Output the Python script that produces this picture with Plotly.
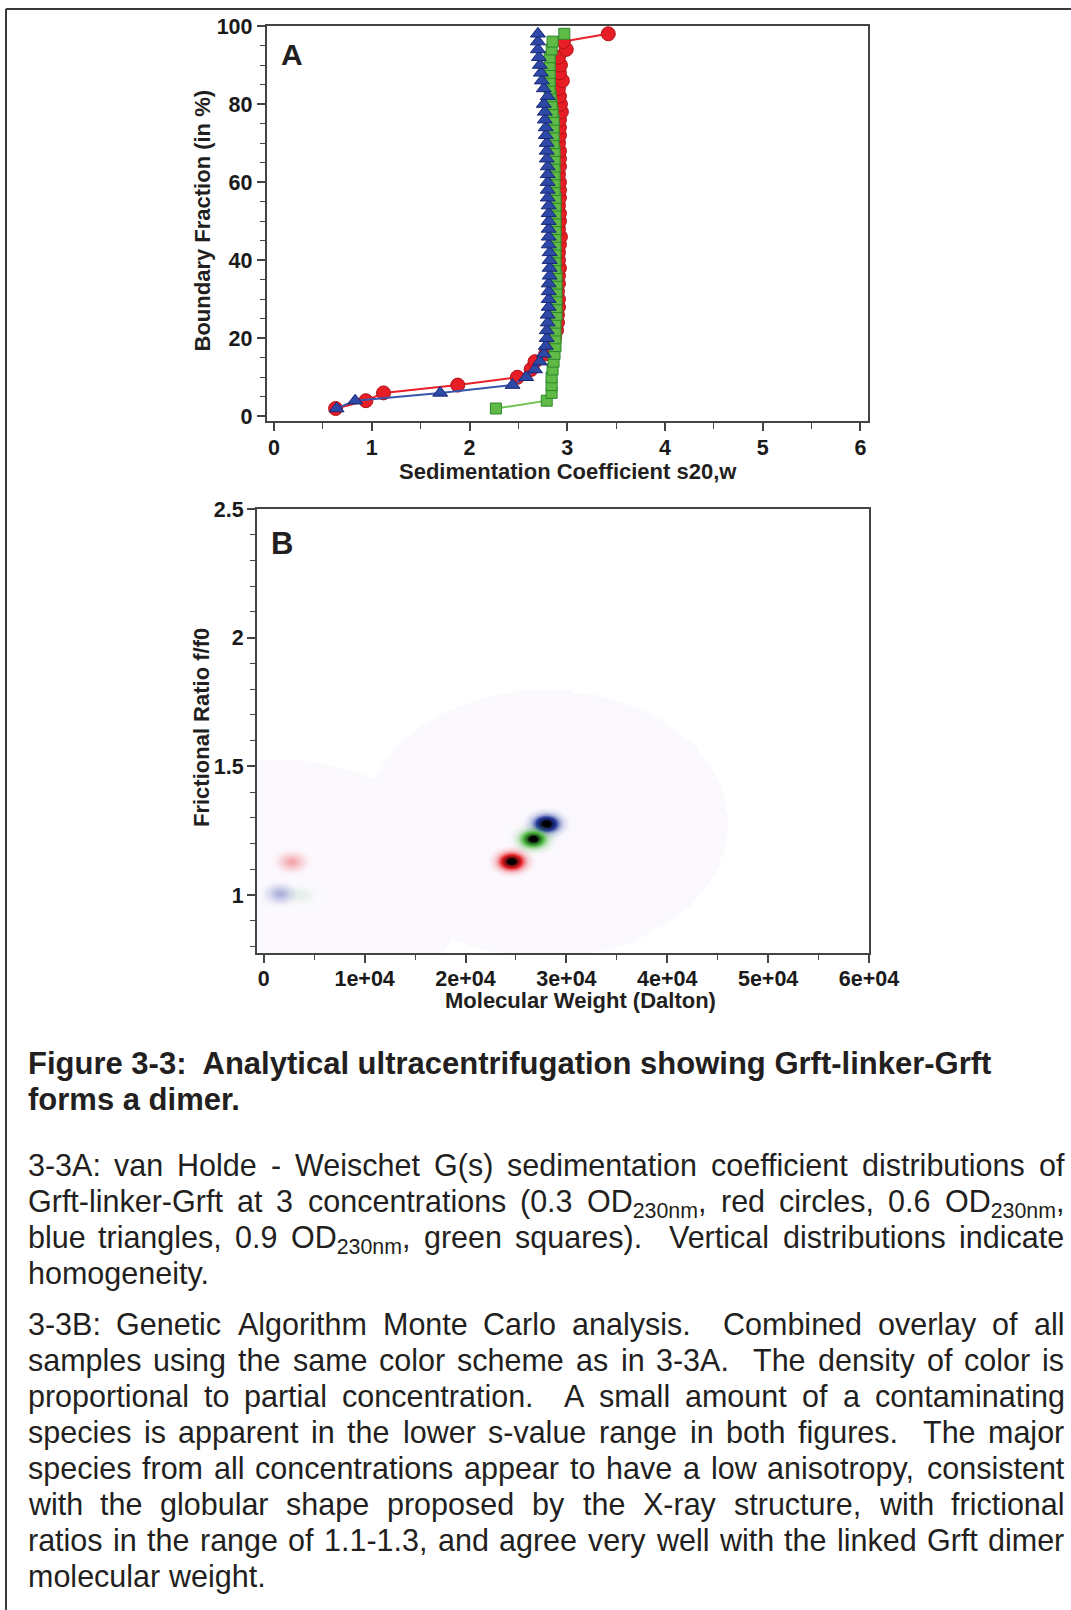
import numpy as np
import plotly.graph_objects as go

W, H = 1071, 1610

# ---------------- Panel A data (van Holde - Weischet) ----------------
boundary_fraction = [2, 4, 6, 8, 10, 12, 14, 16, 18, 20, 22, 24, 26, 28, 30, 32, 34, 36, 38, 40,
                     42, 44, 46, 48, 50, 52, 54, 56, 58, 60, 62, 64, 66, 68, 70, 72, 74, 76, 78, 80,
                     82, 84, 86, 88, 90, 92, 94, 96, 98]
s_red = [0.63, 0.94, 1.12, 1.88, 2.49, 2.63, 2.67, 2.78, 2.84, 2.87, 2.89, 2.90, 2.90, 2.91, 2.91,
         2.90, 2.91, 2.91, 2.92, 2.91, 2.91, 2.92, 2.93, 2.91, 2.92, 2.92, 2.91, 2.92, 2.92, 2.92,
         2.91, 2.92, 2.92, 2.92, 2.91, 2.92, 2.92, 2.92, 2.94, 2.93, 2.92, 2.91, 2.95, 2.92, 2.93,
         2.91, 2.99, 2.96, 3.42]
s_blue = [0.64, 0.83, 1.70, 2.44, 2.58, 2.67, 2.72, 2.76, 2.78, 2.79, 2.79, 2.80, 2.80, 2.81, 2.81,
          2.81, 2.81, 2.82, 2.82, 2.82, 2.82, 2.81, 2.81, 2.81, 2.81, 2.81, 2.81, 2.80, 2.80, 2.80,
          2.80, 2.80, 2.79, 2.79, 2.79, 2.78, 2.78, 2.77, 2.77, 2.76, 2.80, 2.76, 2.74, 2.73, 2.72,
          2.71, 2.70, 2.70, 2.70]
s_green = [2.27, 2.79, 2.84, 2.84, 2.84, 2.85, 2.86, 2.87, 2.88, 2.88, 2.88, 2.88, 2.89, 2.89, 2.89,
           2.89, 2.89, 2.89, 2.88, 2.88, 2.88, 2.88, 2.88, 2.88, 2.88, 2.88, 2.88, 2.88, 2.87, 2.87,
           2.87, 2.87, 2.87, 2.87, 2.86, 2.86, 2.86, 2.86, 2.85, 2.84, 2.83, 2.82, 2.82, 2.82, 2.82,
           2.82, 2.84, 2.85, 2.97]

# ---------------- Panel B data (GA Monte Carlo species) ----------------
species_mw = [28000, 26700, 24550, 2750, 1600, 3750]
species_ff0 = [1.277, 1.218, 1.131, 1.129, 1.005, 1.000]
species_conc = [1.0, 1.0, 1.0, 0.11, 0.11, 0.02]
species_series = ["blue", "green", "red", "red", "blue", "green"]
haze_mw = [28000, 1600]
haze_ff0 = [1.277, 1.005]

xtick_vals_A = [0, 1, 2, 3, 4, 5, 6]
ytick_vals_A = [0, 20, 40, 60, 80, 100]
xtick_vals_B = [0, 10000, 20000, 30000, 40000, 50000, 60000]
xtick_text_B = ["0", "1e+04", "2e+04", "3e+04", "4e+04", "5e+04", "6e+04"]
ytick_vals_B = [1, 1.5, 2, 2.5]
ytick_text_B = ["1", "1.5", "2", "2.5"]

# ---------------- caption text ----------------
title_lines = ["Figure 3-3:\u00a0 Analytical ultracentrifugation showing Grft-linker-Grft",
               "forms a dimer."]
para_a = ["3-3A: van Holde - Weischet G(s) sedimentation coefficient distributions of",
          "Grft-linker-Grft at 3 concentrations (0.3 OD<sub>230nm</sub>, red circles, 0.6 OD<sub>230nm</sub>,",
          "blue triangles, 0.9 OD<sub>230nm</sub>, green squares).  Vertical distributions indicate",
          "homogeneity."]
para_b = ["3-3B: Genetic Algorithm Monte Carlo analysis.  Combined overlay of all",
          "samples using the same color scheme as in 3-3A.  The density of color is",
          "proportional to partial concentration.  A small amount of a contaminating",
          "species is apparent in the lower s-value range in both figures.  The major",
          "species from all concentrations appear to have a low anisotropy, consistent",
          "with the globular shape proposed by the X-ray structure, with frictional",
          "ratios in the range of 1.1-1.3, and agree very well with the linked Grft dimer",
          "molecular weight."]

FONT = "Liberation Sans, Arial, Helvetica, sans-serif"
TXT = "#231f20"
FRAME = "#444444"

def px_x(p):
    return p / W

def px_y(p):
    return 1 - p / H

fig = go.Figure()

# ---------------- Panel A traces ----------------
fig.add_trace(go.Scatter(x=s_red, y=boundary_fraction, mode="lines+markers",
                         line=dict(color="rgb(232,32,40)", width=2),
                         marker=dict(symbol="circle", size=14, color="rgb(232,30,38)",
                                     line=dict(color="rgb(175,18,24)", width=1)),
                         showlegend=False, xaxis="x", yaxis="y"))
fig.add_trace(go.Scatter(x=s_green, y=boundary_fraction, mode="lines+markers",
                         line=dict(color="rgb(112,196,82)", width=2),
                         marker=dict(symbol="square", size=11, color="rgb(96,186,70)",
                                     line=dict(color="rgb(45,135,45)", width=1)),
                         showlegend=False, xaxis="x", yaxis="y"))
fig.add_trace(go.Scatter(x=s_blue, y=boundary_fraction, mode="lines+markers",
                         line=dict(color="rgb(55,85,170)", width=2),
                         marker=dict(symbol="triangle-up", size=13, color="rgb(46,72,166)",
                                     line=dict(color="rgb(25,40,120)", width=1)),
                         showlegend=False, xaxis="x", yaxis="y"))

# ---------------- Panel B: faint haze + species blobs ----------------
HAZE_RX, HAZE_RY = 18000.0, 0.52
hx = np.arange(-670, 60001, 200.0)
hy = np.arange(0.775, 1.85, 0.008)
HX, HY = np.meshgrid(hx, hy)
hz = np.zeros_like(HX)
for cx, cy in zip(haze_mw, haze_ff0):
    hz = np.maximum(hz, (((HX - cx) / HAZE_RX) ** 2 + ((HY - cy) / HAZE_RY) ** 2 <= 1).astype(float))
fig.add_trace(go.Heatmap(x=hx, y=hy, z=hz.astype(int), zmin=0, zmax=1,
                         colorscale=[[0, "rgba(255,255,255,0)"], [0.5, "rgba(255,255,255,0)"],
                                     [0.51, "rgb(251,249,254)"], [1, "rgb(251,249,254)"]],
                         showscale=False, hoverinfo="skip", xaxis="x2", yaxis="y2"))

base_rgb = {"red": (230, 28, 34), "green": (70, 182, 60), "blue": (38, 58, 160)}

def blob_scale(rgb):
    r, g, b = rgb
    dk = tuple(int(v * 0.55) for v in rgb)
    return [[0, f"rgba({r},{g},{b},0)"],
            [0.015, f"rgba({r},{g},{b},0.1)"],
            [0.1, f"rgba({r},{g},{b},0.35)"],
            [0.35, f"rgba({r},{g},{b},1)"],
            [0.66, f"rgba({dk[0]},{dk[1]},{dk[2]},1)"],
            [0.85, "rgba(0,0,0,1)"],
            [1, "rgba(0,0,0,1)"]]

SX, SY = 680.0, 0.018
for mw, ff, c, ser in zip(species_mw, species_ff0, species_conc, species_series):
    xs = np.arange(mw - 4 * SX, mw + 4 * SX + 1, 60.0)
    ys = np.arange(ff - 4 * SY, ff + 4 * SY + 1e-9, 0.0016)
    X, Y = np.meshgrid(xs, ys)
    Z = c * np.exp(-0.5 * (((X - mw) / SX) ** 2 + ((Y - ff) / SY) ** 2))
    fig.add_trace(go.Heatmap(x=xs, y=ys, z=np.round(Z, 4), zmin=0, zmax=1,
                             colorscale=blob_scale(base_rgb[ser]), zsmooth="best",
                             showscale=False, hoverinfo="skip", xaxis="x2", yaxis="y2"))

# ---------------- axes ----------------
tickfont = dict(family=FONT, size=21.5, color="#1a1a1a", weight="bold")
common = dict(showline=True, linecolor=FRAME, linewidth=2, mirror=True, showgrid=False,
              zeroline=False, ticks="outside", ticklen=8, tickwidth=1.5, tickcolor=FRAME,
              tickfont=tickfont, automargin=False)

fig.update_layout(
    width=W, height=H, margin=dict(l=0, r=0, t=0, b=0, pad=0, autoexpand=False),
    paper_bgcolor="white", plot_bgcolor="white", showlegend=False,
    xaxis=dict(domain=[px_x(266.8), px_x(867.7)], range=[-0.074, 6.074], anchor="y",
               tickvals=xtick_vals_A, ticklabelstandoff=-2,
               minor=dict(ticks="outside", ticklen=6, tickcolor=FRAME, tickwidth=1, dtick=0.5, tick0=0),
               **common),
    yaxis=dict(domain=[px_y(421), px_y(26)], range=[-1.2, 100], anchor="x",
               tickvals=ytick_vals_A, ticklabelstandoff=0,
               minor=dict(ticks="outside", ticklen=5, tickcolor=FRAME, tickwidth=1, dtick=5, tick0=0),
               **common),
    xaxis2=dict(domain=[px_x(257), px_x(869)], range=[-670, 60000], anchor="y2",
                tickvals=xtick_vals_B, ticktext=xtick_text_B, ticklabelstandoff=-3,
                minor=dict(ticks="outside", ticklen=5, tickcolor=FRAME, tickwidth=1, dtick=5000, tick0=0),
                **common),
    yaxis2=dict(domain=[px_y(953), px_y(509)], range=[0.775, 2.5], anchor="x2",
                tickvals=ytick_vals_B, ticktext=ytick_text_B, ticklabelstandoff=-1,
                minor=dict(ticks="outside", ticklen=5, tickcolor=FRAME, tickwidth=1, dtick=0.1, tick0=0),
                **common),
)

ann = []

def add_text(text, xpx, ypx, size, bold=False, xanchor="left", yanchor="middle", angle=0):
    f = dict(family=FONT, size=size, color=TXT)
    if bold:
        f["weight"] = "bold"
    ann.append(dict(text=text, x=px_x(xpx), y=px_y(ypx), xref="paper", yref="paper",
                    xanchor=xanchor, yanchor=yanchor, showarrow=False, textangle=angle,
                    font=f, borderpad=0))

# axis titles and panel letters
add_text("Boundary Fraction (in %)", 202, 220.5, 22, True, "center", "middle", -90)
add_text("Sedimentation Coefficient s20,w", 568, 471.5, 22, True, "center", "middle")
add_text("Frictional Ratio f/f0", 201, 728, 22, True, "center", "middle", -90)
add_text("Molecular Weight (Dalton)", 580, 1001, 22, True, "center", "middle")
add_text("A", 280, 71.5, 30, True, "left", "bottom")
add_text("B", 269.5, 562, 31, True, "left", "bottom")

# ---------------- caption with justification ----------------
HELV = {" ": 278, "(": 333, ")": 333, ",": 278, "-": 333, ".": 278, ":": 278, "%": 889, "/": 278}
for d in "0123456789":
    HELV[d] = 556
HELV.update(dict(zip("ABCDEFGHIJKLMNOPQRSTUVWXYZ",
                     [667, 667, 722, 722, 667, 611, 778, 722, 278, 500, 667, 556, 833, 722, 778, 667,
                      778, 722, 667, 611, 722, 667, 944, 667, 667, 611])))
HELV.update(dict(zip("abcdefghijklmnopqrstuvwxyz",
                     [556, 556, 500, 556, 556, 278, 556, 556, 222, 222, 500, 222, 833, 556, 556, 556,
                      556, 333, 500, 278, 556, 500, 722, 500, 500, 500])))

def word_width(word, size):
    w = 0.0
    scale = 1.0
    i = 0
    while i < len(word):
        if word.startswith("<sub>", i):
            scale = 0.7
            i += 5
            continue
        if word.startswith("</sub>", i):
            scale = 1.0
            i += 6
            continue
        w += HELV.get(word[i], 556) * scale
        i += 1
    return w * size / 1000.0

BODY = 30.5
XL, XR = 26.5, 1063.5
ASC = 0.905

def place_line(line, baseline, justify, size=BODY):
    words = line.split(" ")
    real = [w for w in words if w]
    n_sp = len(words) - 1
    total = sum(word_width(w, size) for w in real)
    space = (XR - XL - total) / n_sp if (justify and n_sp > 0) else 0.278 * size
    top = baseline - ASC * size
    x = XL
    for i, w in enumerate(words):
        if w:
            add_text(w, x, top, size, False, "left", "top")
            x += word_width(w, size)
        if i < len(words) - 1:
            x += space

# title (bold, not justified)
title_base = [1073, 1109]
for line, b in zip(title_lines, title_base):
    add_text(line, XL, b - ASC * 31, 31, True, "left", "top")

a_base = [1174.5, 1210.4, 1246.3, 1282.2]
for k, (line, b) in enumerate(zip(para_a, a_base)):
    place_line(line, b, k < len(para_a) - 1)

b_base = [1333.5, 1369.5, 1405.5, 1441.5, 1477.5, 1513.5, 1549.5, 1585.5]
for k, (line, b) in enumerate(zip(para_b, b_base)):
    place_line(line, b, k < len(para_b) - 1)

fig.update_layout(annotations=ann)

# page frame lines (top and left)
fig.update_layout(shapes=[
    dict(type="line", xref="paper", yref="paper", x0=px_x(6), x1=1.0, y0=px_y(9), y1=px_y(9),
         line=dict(color="#3a3a3a", width=2)),
    dict(type="line", xref="paper", yref="paper", x0=px_x(6), x1=px_x(6), y0=px_y(9), y1=0.0,
         line=dict(color="#3a3a3a", width=2)),
])

fig.write_html("out.html", config={"responsive": False},
               post_script="document.body.style.margin='0px';document.body.style.overflow='hidden';")
